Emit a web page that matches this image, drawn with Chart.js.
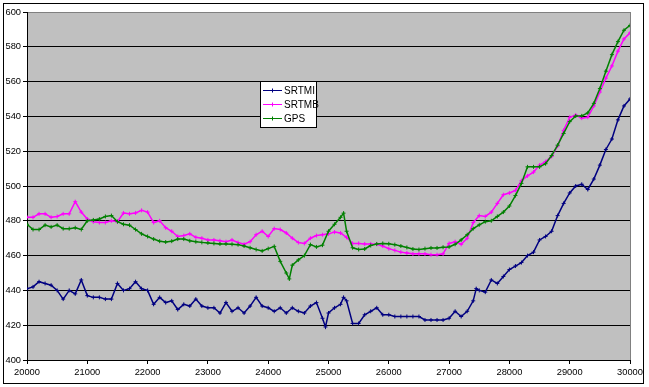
<!DOCTYPE html>
<html>
<head>
<meta charset="utf-8">
<script src="https://cdn.jsdelivr.net/npm/chart.js@4/dist/chart.umd.min.js"></script>
<style>
  html, body { margin: 0; padding: 0; background: #fff; }
  #wrap { width: 649px; height: 387px; }
</style>
</head>
<body>
<div id="wrap"><canvas id="chart" width="649" height="387"></canvas></div>
<script>
// x positions (step 100, a few extra points where the lines spike)
const srtmiX = [20000,20100,20200,20300,20400,20500,20600,20700,20800,20900,
  21000,21100,21200,21300,21400,21500,21600,21700,21800,21900,
  22000,22100,22200,22300,22400,22500,22600,22700,22800,22900,
  23000,23100,23200,23300,23400,23500,23600,23700,23800,23900,
  24000,24100,24200,24300,24400,24500,24600,24700,24800,24900,24950,
  25000,25100,25200,25250,25300,25400,25500,25600,25700,25800,25900,
  26000,26100,26200,26300,26400,26500,26600,26700,26800,26900,
  27000,27100,27200,27300,27400,27450,27500,27600,27700,27800,27900,
  28000,28100,28200,28300,28400,28500,28600,28700,28800,28900,
  29000,29100,29200,29300,29400,29500,29600,29700,29800,29900,30000];
const srtmiY = [441,442,445,444,443,440,435,440,438,446,
  437,436,436,435,435,444,440,441,445,441,
  440,432,436,433,434,429,432,431,435,431,
  430,430,427,433,428,430,427,431,436,431,
  430,428,430,427,430,428,427,431,433,424,419,
  427,430,432,436,434,421,421,426,428,430,426,
  426,425,425,425,425,425,423,423,423,423,
  424,428,425,428,434,441,440,439,446,444,448,
  452,454,456,460,462,469,471,474,483,490,
  496,500,501,498,504,512,521,527,538,546,550];

const srtmbX = [20000,20100,20200,20300,20400,20500,20600,20700,20800,20900,
  21000,21100,21200,21300,21400,21500,21600,21700,21800,21900,
  22000,22100,22200,22300,22400,22500,22600,22700,22800,22900,
  23000,23100,23200,23300,23400,23500,23600,23700,23800,23900,
  24000,24100,24200,24300,24400,24500,24600,24700,24800,24900,
  25000,25100,25200,25300,25400,25500,25600,25700,25800,25900,
  26000,26100,26200,26300,26400,26500,26600,26700,26800,26900,
  27000,27100,27200,27300,27400,27500,27600,27700,27800,27900,
  28000,28100,28200,28300,28400,28500,28600,28700,28800,28900,
  29000,29100,29200,29300,29400,29500,29600,29700,29800,29900,30000];
const srtmbY = [482,482,484,484,482,482.5,484,484,491,485,
  481,479.5,479,479,480,479.5,484.5,484,484.5,486,
  485,479,480,476,474,471,471.5,472.5,470.5,470,
  469,469,468.5,468,469,467.5,466.5,468,472,474,
  471,475.5,475,473,470,467.5,467,470,471.5,472,
  472.5,473.5,473,470.5,467,467,466.7,466.7,466.5,465.5,
  464,463,462,461.5,461,461,461,460.5,460.5,461,
  467,468,466.5,470,479,483,482.5,485,490,495,
  496,497.5,503,505.8,508,512,514,517,523,532,
  539.5,540.8,539,539.5,546,554,562,569,577.5,584.5,588];

const gpsX = [20000,20100,20200,20300,20400,20500,20600,20700,20800,20900,
  21000,21100,21200,21300,21400,21500,21600,21700,21800,21900,
  22000,22100,22200,22300,22400,22500,22600,22700,22800,22900,
  23000,23100,23200,23300,23400,23500,23600,23700,23800,23900,
  24000,24100,24200,24300,24350,24400,24500,24600,24700,24800,24900,
  25000,25100,25200,25250,25300,25400,25500,25600,25700,25800,25900,
  26000,26100,26200,26300,26400,26500,26600,26700,26800,26900,
  27000,27100,27200,27300,27400,27500,27600,27700,27800,27900,
  28000,28100,28200,28300,28400,28500,28600,28700,28800,28900,
  29000,29100,29200,29300,29400,29500,29600,29700,29800,29900,30000];
const gpsY = [478,475,475,477.5,476.5,477.5,475.5,475.5,476,475,
  480,480.5,481,482.5,483,479.5,478,477.5,475,472.5,
  471,469.5,468.3,467.8,468.3,469.5,469.5,468.5,468,467.6,
  467.3,467,466.7,466.7,466.5,466.3,465.5,464.5,463.5,462.7,
  464,465.3,456.7,450,446.6,454.5,457.5,460,466.3,465,466,
  474,478,482,484.4,474,464.5,463.5,463.8,465.8,466.7,467,
  466.8,466.3,465.5,464.7,463.8,463.5,464,464.4,464.4,464.8,
  465,466.5,469,472,475.5,477.7,479.5,480,482.5,485,
  488.5,494.5,501.5,511,511,511,512.8,517.5,523.5,530.2,
  537,540.2,540.3,542,547.5,556,566,575.5,583,589.5,592.3];

const seriesNames = ["SRTMI", "SRTMB", "GPS"];
const seriesColors = ["#000080", "#FF00FF", "#008000"];
const yTicks = [400, 420, 440, 460, 480, 500, 520, 540, 560, 580, 600];
const xTicks = [20000, 21000, 22000, 23000, 24000, 25000, 26000, 27000, 28000, 29000, 30000];

const pts = (xs, ys) => xs.map((x, i) => ({ x: x, y: ys[i] }));

// grey plot area, outer frame, right border
const frame = {
    id: "frame",
    beforeDraw(chart) {
        const c = chart.ctx, a = chart.chartArea;
        c.save();
        c.fillStyle = "#fff";
        c.fillRect(0, 0, chart.width, chart.height);
        c.fillStyle = "#C0C0C0";
        c.fillRect(a.left, a.top, a.right - a.left, a.bottom - a.top);
        c.restore();
    },
    afterDraw(chart) {
        const c = chart.ctx, a = chart.chartArea;
        c.save();
        c.strokeStyle = "#808080";
        c.lineWidth = 1;
        c.beginPath();
        c.moveTo(Math.round(a.right) + 0.5, a.top);
        c.lineTo(Math.round(a.right) + 0.5, a.bottom);
        c.stroke();
        c.strokeStyle = "#000";
        c.strokeRect(3.5, 3.5, 640, 380);
        c.restore();
    }
};

// boxed legend inside the plot
const boxLegend = {
    id: "boxLegend",
    afterDraw(chart) {
        const c = chart.ctx;
        const bx = 260.5, by = 81.5, bw = 56, bh = 46;
        c.save();
        c.fillStyle = "#fff";
        c.fillRect(bx, by, bw, bh);
        c.strokeStyle = "#000";
        c.lineWidth = 1;
        c.strokeRect(bx, by, bw, bh);
        c.font = "10px 'Liberation Sans', Arial, sans-serif";
        c.textBaseline = "middle";
        seriesNames.forEach((name, i) => {
            const y = 90.5 + i * 14;
            c.strokeStyle = seriesColors[i];
            c.beginPath();
            c.moveTo(263, y);
            c.lineTo(282, y);
            c.moveTo(272.5, y - 2);
            c.lineTo(272.5, y + 2);
            c.stroke();
            c.fillStyle = "#000";
            c.fillText(name, 284, y + 0.5);
        });
        c.restore();
    }
};

const mk = (i, xs, ys, order) => ({
    label: seriesNames[i],
    data: pts(xs, ys),
    borderColor: seriesColors[i],
    backgroundColor: seriesColors[i],
    borderWidth: 1.5,
    pointStyle: "cross",
    pointRadius: 2,
    pointBorderWidth: 1,
    tension: 0,
    order: order
});

new Chart(document.getElementById("chart"), {
    type: "line",
    data: {
        datasets: [
            mk(0, srtmiX, srtmiY, 3),
            mk(1, srtmbX, srtmbY, 2),
            mk(2, gpsX, gpsY, 1)
        ]
    },
    options: {
        responsive: false,
        animation: false,
        devicePixelRatio: 1,
        layout: { padding: { left: 0, top: 12, right: 19, bottom: 0 } },
        plugins: { legend: { display: false }, tooltip: { enabled: false } },
        scales: {
            x: {
                type: "linear",
                min: 20000,
                max: 30000,
                afterBuildTicks: s => { s.ticks = xTicks.map(v => ({ value: v })); },
                afterFit: s => { s.height = 27; },
                grid: { drawOnChartArea: false, tickLength: 4, tickColor: "#000" },
                border: { color: "#000" },
                ticks: {
                    color: "#000",
                    padding: 3,
                    maxRotation: 0,
                    font: { family: "'Liberation Sans', Arial, sans-serif", size: 9.3 },
                    callback: v => String(v)
                }
            },
            y: {
                min: 400,
                max: 600,
                afterBuildTicks: s => { s.ticks = yTicks.map(v => ({ value: v })); },
                afterFit: s => { s.width = 27; },
                grid: {
                    color: ctx => (ctx.tick && ctx.tick.value === 600 ? "#808080" : "#000"),
                    tickColor: "#000",
                    tickLength: 4
                },
                border: { color: "#000" },
                ticks: {
                    color: "#000",
                    padding: 2,
                    font: { family: "'Liberation Sans', Arial, sans-serif", size: 9.3 },
                    callback: v => String(v)
                }
            }
        }
    },
    plugins: [frame, boxLegend]
});
</script>
</body>
</html>
